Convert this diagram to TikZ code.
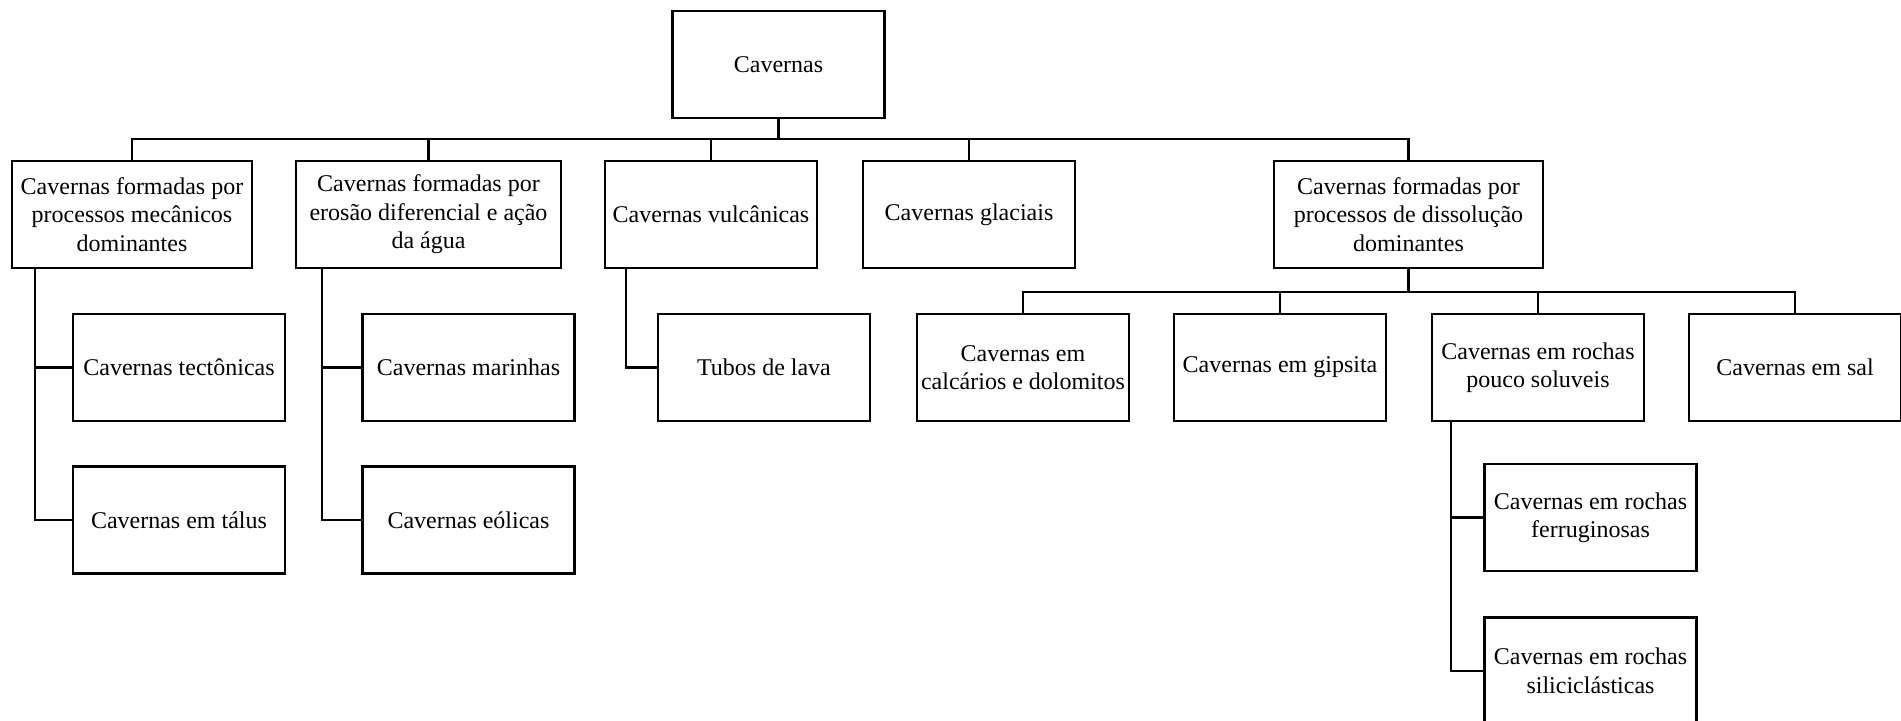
\documentclass[tikz,border=0pt]{standalone}
\usepackage{fontspec}
\setmainfont{Liberation Serif}
\usetikzlibrary{positioning}

\begin{document}
\begin{tikzpicture}[x=0.5pt, y=-0.5pt]
		\tikzstyle{Box} = [rectangle, minimum width=106pt, minimum height=53.5pt, inner sep=1pt, align=center, draw=black, line width = 1.2pt, font=\fontsize{12pt}{14.2pt}\selectfont]
		\tikzstyle{line} = [line width = 1.2pt]
		\useasboundingbox (0,0) rectangle (1901,721);

		% top level
		\node (root) [Box] at (778.5,64.5) {Cavernas};

		% first level
		\node (mec) [Box, minimum width=120pt] at (132,214.5) {Cavernas formadas por\\processos mecânicos\\dominantes};
		\node (ero) [Box, minimum width=132.5pt] at (428.5,214.5) {Cavernas formadas por\\erosão diferencial e ação\\da água};
		\node (vulc) [Box] at (711,214.5) {Cavernas vulcânicas};
		\node (glac) [Box] at (969,214.5) {Cavernas glaciais};
		\node (diss) [Box, minimum width=134.5pt] at (1408.5,214.5) {Cavernas formadas por\\processos de dissolução\\dominantes};

		% second level
		\node (tect) [Box] at (179,367.5) {Cavernas tectônicas};
		\node (talus) [Box, below = 21.5pt of tect] {Cavernas em tálus};
		\node (mar) [Box] at (468.5,367.5) {Cavernas marinhas};
		\node (eol) [Box, below = 21.5pt of mar] {Cavernas eólicas};
		\node (lava) [Box] at (764,367.5) {Tubos de lava};
		\node (calc) [Box] at (1023,367.5) {Cavernas em\\calcários e dolomitos};
		\node (gips) [Box] at (1280,367.5) {Cavernas em gipsita};
		\node (pouco) [Box] at (1538,367.5) {Cavernas em rochas\\pouco soluveis};
		\node (sal) [Box] at (1795,367.5) {Cavernas em sal};
		\node (ferr) [Box] at (1590.5,517.5) {Cavernas em rochas\\ferruginosas};
		\node (silic) [Box, below = 22pt of ferr] {Cavernas em rochas\\siliciclásticas};

		% buses
		\coordinate (bus) at (0,139);
		\coordinate (busb) at (0,292);
		\draw[line] (root.south) -- (root.south |- bus);
		\draw[line] (mec.north) -- (mec.north |- bus) -- (diss.north |- bus) -- (diss.north);
		\foreach \n in {ero, vulc, glac}
			\draw[line] (\n.north) -- (\n.north |- bus);
		\draw[line] (diss.south) -- (diss.south |- busb);
		\draw[line] (calc.north) -- (calc.north |- busb) -- (sal.north |- busb) -- (sal.north);
		\draw[line] (gips.north) -- (gips.north |- busb);
		\draw[line] (pouco.north) -- (pouco.north |- busb);

		% side branches
		\draw[line] ([xshift=12pt]mec.south west) |- (talus.west);
		\draw[line] ([xshift=12pt]mec.south west |- tect.west) -- (tect.west);
		\draw[line] ([xshift=13.5pt]ero.south west) |- (eol.west);
		\draw[line] ([xshift=13.5pt]ero.south west |- mar.west) -- (mar.west);
		\draw[line] ([xshift=11pt]vulc.south west) |- (lava.west);
		\draw[line] ([xshift=10pt]pouco.south west) |- (silic.west);
		\draw[line] ([xshift=10pt]pouco.south west |- ferr.west) -- (ferr.west);
\end{tikzpicture}
\end{document}
